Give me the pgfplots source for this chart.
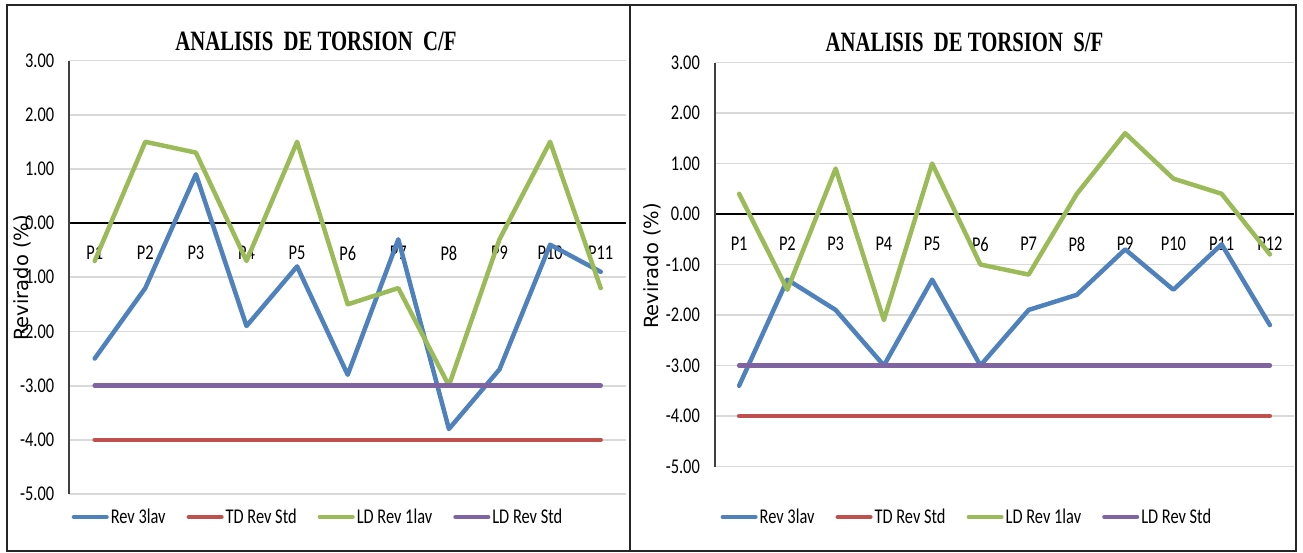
\documentclass[border=0pt]{standalone}
\usepackage{fontspec}
\setmainfont{Carlito}[FakeStretch=0.78]
\newfontfamily\titlefont{Liberation Serif}[FakeStretch=0.74]
\newfontfamily\labelfont{DejaVu Sans}
\usepackage{pgfplots}
\usepackage{pgfplotstable}
\pgfplotsset{compat=1.18}

\definecolor{cblue}{HTML}{4F81BD}
\definecolor{cred}{HTML}{C0504D}
\definecolor{cgreen}{HTML}{9BBB59}
\definecolor{cpurple}{HTML}{8064A2}
\definecolor{cgrid}{HTML}{D9D9D9}

\pgfplotstableread{
x rev3 tdstd ld1 ldstd
0  -2.5 -4 -0.7 -3
1  -1.2 -4  1.5 -3
2   0.9 -4  1.3 -3
3  -1.9 -4 -0.7 -3
4  -0.8 -4  1.5 -3
5  -2.8 -4 -1.5 -3
6  -0.3 -4 -1.2 -3
7  -3.8 -4 -3.0 -3
8  -2.7 -4 -0.3 -3
9  -0.4 -4  1.5 -3
10 -0.9 -4 -1.2 -3
}\tableCF

\pgfplotstableread{
x rev3 tdstd ld1 ldstd
0  -3.4 -4  0.4 -3
1  -1.3 -4 -1.5 -3
2  -1.9 -4  0.9 -3
3  -3.0 -4 -2.1 -3
4  -1.3 -4  1.0 -3
5  -3.0 -4 -1.0 -3
6  -1.9 -4 -1.2 -3
7  -1.6 -4  0.4 -3
8  -0.7 -4  1.6 -3
9  -1.5 -4  0.7 -3
10 -0.6 -4  0.4 -3
11 -2.2 -4 -0.8 -3
}\tableSF

\pgfplotsset{
  panel/.style={
    scale only axis,
    anchor=south west,
    ymin=-5, ymax=3,
    axis x line=middle,
    axis y line=left,
    axis line style={-},
    x axis line style={black, line width=2pt},
    y axis line style={black!75, line width=2pt},
    hide obscured x ticks=false,
    hide obscured y ticks=false,
    major tick length=0pt,
    ytick={-5,-4,-3,-2,-1,0,1,2,3},
    yticklabels={-5.00,-4.00,-3.00,-2.00,-1.00,0.00,1.00,2.00,3.00},
    ymajorgrids,
    grid style={cgrid, line width=1.8pt},
    xtick=data,
    tick label style={font=\fontsize{21}{24}\selectfont},
    yticklabel style={inner sep=0pt, anchor=east, xshift=-15pt},
    xticklabel style={inner sep=0pt, anchor=center, yshift=-30pt},
    legend columns=4,
    legend cell align=left,
    legend style={draw=none, fill=none, font=\fontsize{21}{24}\selectfont,
      anchor=center, nodes={inner sep=2pt},
      /tikz/every even column/.append style={column sep=19pt}},
    legend image code/.code={\draw[#1, line cap=round] (2.2pt,0pt) -- (34.8pt,0pt);},
    every axis plot/.append style={line width=4.5pt, line join=round, line cap=round},
  }
}

\begin{document}
\begin{tikzpicture}[x=1pt,y=1pt]
\path (0,0) rectangle (1303,552);
% frames
\draw[line width=2pt, black!85] (6.5,1) rectangle (1296,547);
\draw[line width=2pt, black!85] (629.5,1) -- (629.5,547);

% titles
\node[font=\titlefont\bfseries\fontsize{28}{30}\selectfont] at (316,511) {ANALISIS\ \ DE TORSION\ \ C/F};
\node[font=\titlefont\bfseries\fontsize{28}{30}\selectfont] at (964.5,510) {ANALISIS\ \ DE TORSION\ \ S/F};

% y labels
\node[rotate=90, font=\labelfont\fontsize{19.5}{22}\selectfont] at (22,274) {Revirado (\%)};
\node[rotate=90, font=\labelfont\fontsize{19.5}{22}\selectfont] at (652,286) {Revirado (\%)};

\begin{axis}[panel,
  at={(69.4pt,58pt)}, width=556.6pt, height=433.5pt,
  xmin=-0.5, xmax=10.5,
  xticklabels={P1,P2,P3,P4,P5,P6,P7,P8,P9,P10,P11},
  legend style={at={(axis description cs:0.4466,-0.053)}},
]
\addplot[cblue] table[x=x,y=rev3] {\tableCF};
\addlegendentry{Rev 3lav}
\addplot[cred] table[x=x,y=tdstd] {\tableCF};
\addlegendentry{TD Rev Std}
\addplot[cgreen] table[x=x,y=ld1] {\tableCF};
\addlegendentry{LD Rev 1lav}
\addplot[cpurple] table[x=x,y=ldstd] {\tableCF};
\addlegendentry{LD Rev Std}
\end{axis}

\begin{axis}[panel,
  at={(715pt,85.5pt)}, width=579pt, height=404pt,
  xmin=-0.5, xmax=11.5,
  xticklabels={P1,P2,P3,P4,P5,P6,P7,P8,P9,P10,P11,P12},
  legend style={at={(axis description cs:0.435,-0.125)}},
]
\addplot[cblue] table[x=x,y=rev3] {\tableSF};
\addlegendentry{Rev 3lav}
\addplot[cred] table[x=x,y=tdstd] {\tableSF};
\addlegendentry{TD Rev Std}
\addplot[cgreen] table[x=x,y=ld1] {\tableSF};
\addlegendentry{LD Rev 1lav}
\addplot[cpurple] table[x=x,y=ldstd] {\tableSF};
\addlegendentry{LD Rev Std}
\end{axis}
\end{tikzpicture}
\end{document}
